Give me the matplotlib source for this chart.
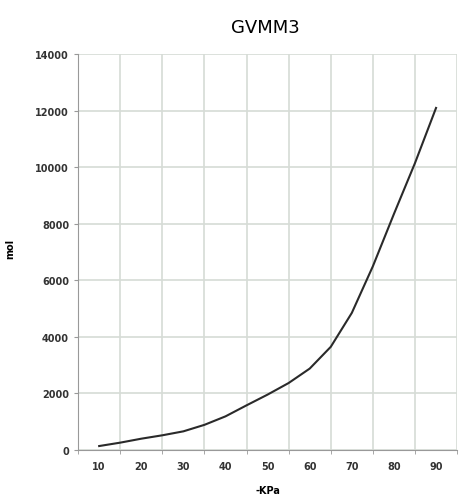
import matplotlib
matplotlib.use("Agg")
import matplotlib.pyplot as plt
import numpy as np

# значения
kpa = [10, 15, 20, 25, 30, 35, 40, 45, 50, 55, 60, 65, 70, 75, 80, 85, 90]
values = [140, 260, 400, 520, 660, 890, 1190, 1580, 1960, 2370, 2880, 3650,
          4850, 6500, 8350, 10150, 12100]
x_ticks = [10, 20, 30, 40, 50, 60, 70, 80, 90]
y_ticks = [0, 2000, 4000, 6000, 8000, 10000, 12000, 14000]

fig = plt.figure(figsize=(4.65, 5.02), dpi=100)
ax = fig.add_axes([0.168, 0.1016, 0.815, 0.7884])

ax.plot(kpa, values, color="#2a2a2a", linewidth=1.5)

ax.set_xlim(5, 95)
ax.set_ylim(0, 14000)
ax.set_xticks(x_ticks)
ax.set_xticks(np.arange(5, 96, 10), minor=True)
ax.set_yticks(y_ticks)
ax.grid(which="minor", axis="x", color="#d6dbd6", linewidth=1.2)
ax.grid(which="major", axis="y", color="#d6dbd6", linewidth=1.2)
ax.tick_params(axis="x", which="major", length=0, labelsize=7, pad=8)
ax.tick_params(axis="x", which="minor", length=3, color="#999999")
ax.tick_params(axis="y", length=3, labelsize=7, color="#999999")
for lbl in ax.get_xticklabels() + ax.get_yticklabels():
    lbl.set_fontweight("bold")
    lbl.set_color("#333333")

for side in ["top", "right"]:
    ax.spines[side].set_visible(False)
ax.spines["left"].set_color("#999999")
ax.spines["bottom"].set_color("#999999")
ax.set_axisbelow(True)

ax.set_xlabel("-KPa", fontsize=7, fontweight="bold", labelpad=10)
ax.set_ylabel("mol", fontsize=7, fontweight="bold")
ax.yaxis.set_label_coords(-0.165, 0.51)
fig.text(0.57, 0.945, "GVMM3", ha="center", va="center", fontsize=13,
         family="DejaVu Sans")

plt.savefig("out.png", dpi=100)
